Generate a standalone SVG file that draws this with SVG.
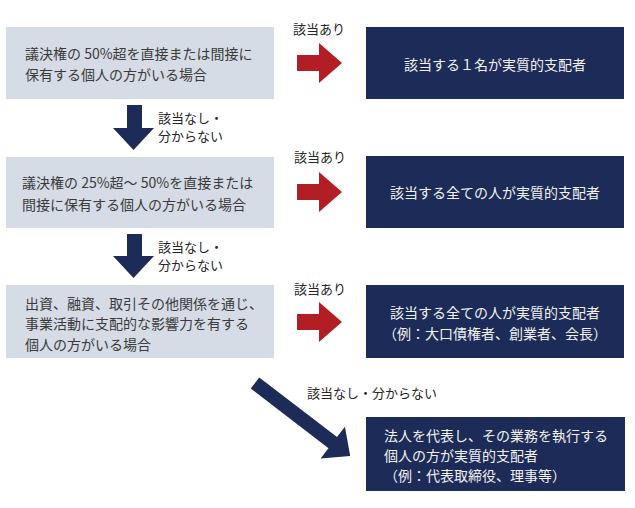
<svg xmlns="http://www.w3.org/2000/svg" width="635" height="508" viewBox="0 0 635 508">
<style>
  text { font-family: "Noto Sans CJK JP", "Noto Sans", sans-serif; }
  .light { fill: #D6DCE5; }
  .dark { fill: #1C2B58; }
  .t-dark { font-size: 14px; fill: #3A3A3A; }
  .t-light { font-size: 14px; fill: #F2F2F2; }
  .lbl { font-size: 13px; fill: #262626; }
  .red { fill: #B31E24; }
  .navy { fill: #1C2B58; }
</style>
<rect width="635" height="508" fill="#FFFFFF"/>

<g id="node-q1">
  <rect class="light" x="6" y="27" width="268" height="72"/>
  <text class="t-dark" x="25" y="59">議決権の 50%超を直接または間接に</text>
  <text class="t-dark" x="25" y="80">保有する個人の方がいる場合</text>
</g>
<g id="node-q2">
  <rect class="light" x="6" y="157" width="268" height="71"/>
  <text class="t-dark" x="22" y="188">議決権の 25%超～ 50%を直接または</text>
  <text class="t-dark" x="22" y="210">間接に保有する個人の方がいる場合</text>
</g>
<g id="node-q3">
  <rect class="light" x="6" y="285" width="268" height="73"/>
  <text class="t-dark" x="25" y="308.5">出資、融資、取引その他関係を通じ、</text>
  <text class="t-dark" x="25" y="329">事業活動に支配的な影響力を有する</text>
  <text class="t-dark" x="25" y="350">個人の方がいる場合</text>
</g>
<g id="node-r1">
  <rect class="dark" x="366" y="27" width="258" height="72"/>
  <text class="t-light" x="495" y="70" text-anchor="middle">該当する１名が実質的支配者</text>
</g>
<g id="node-r2">
  <rect class="dark" x="366" y="156" width="258" height="72"/>
  <text class="t-light" x="495" y="198" text-anchor="middle">該当する全ての人が実質的支配者</text>
</g>
<g id="node-r3">
  <rect class="dark" x="366" y="285" width="258" height="73"/>
  <text class="t-light" x="495" y="318" text-anchor="middle">該当する全ての人が実質的支配者</text>
  <text class="t-light" x="495" y="338.5" text-anchor="middle">（例：大口債権者、創業者、会長）</text>
</g>
<g id="node-r4">
  <rect class="dark" x="366" y="417" width="259" height="74"/>
  <text class="t-light" x="384" y="441">法人を代表し、その業務を執行する</text>
  <text class="t-light" x="384" y="461">個人の方が実質的支配者</text>
  <text class="t-light" x="384" y="481">（例：代表取締役、理事等）</text>
</g>

<g id="connectors">
  <polygon class="red" points="297,55 319,55 319,43 342,63 319,83 319,71 297,71"/>
  <polygon class="red" points="297,184 319,184 319,172 342,192 319,212 319,200 297,200"/>
  <polygon class="red" points="297,314 319,314 319,302 342,322 319,342 319,330 297,330"/>
  <polygon class="navy" points="127,105 142,105 142,128 154,128 133.5,150 113,128 127,128"/>
  <polygon class="navy" points="127,234 142,234 142,256 154,256 133.5,278 113,256 127,256"/>
  <polygon class="navy" transform="translate(255,383) rotate(37.5)" points="0,-7 98,-7 98,-20 120,0 98,20 98,7 0,7"/>
  <text class="lbl" x="293" y="34">該当あり</text>
  <text class="lbl" x="294" y="162">該当あり</text>
  <text class="lbl" x="294" y="293.5">該当あり</text>
  <text class="lbl" x="158" y="123">該当なし・</text>
  <text class="lbl" x="158" y="141">分からない</text>
  <text class="lbl" x="158" y="251.5">該当なし・</text>
  <text class="lbl" x="158" y="269.5">分からない</text>
  <text class="lbl" x="307" y="397.5">該当なし・分からない</text>
</g>
</svg>
